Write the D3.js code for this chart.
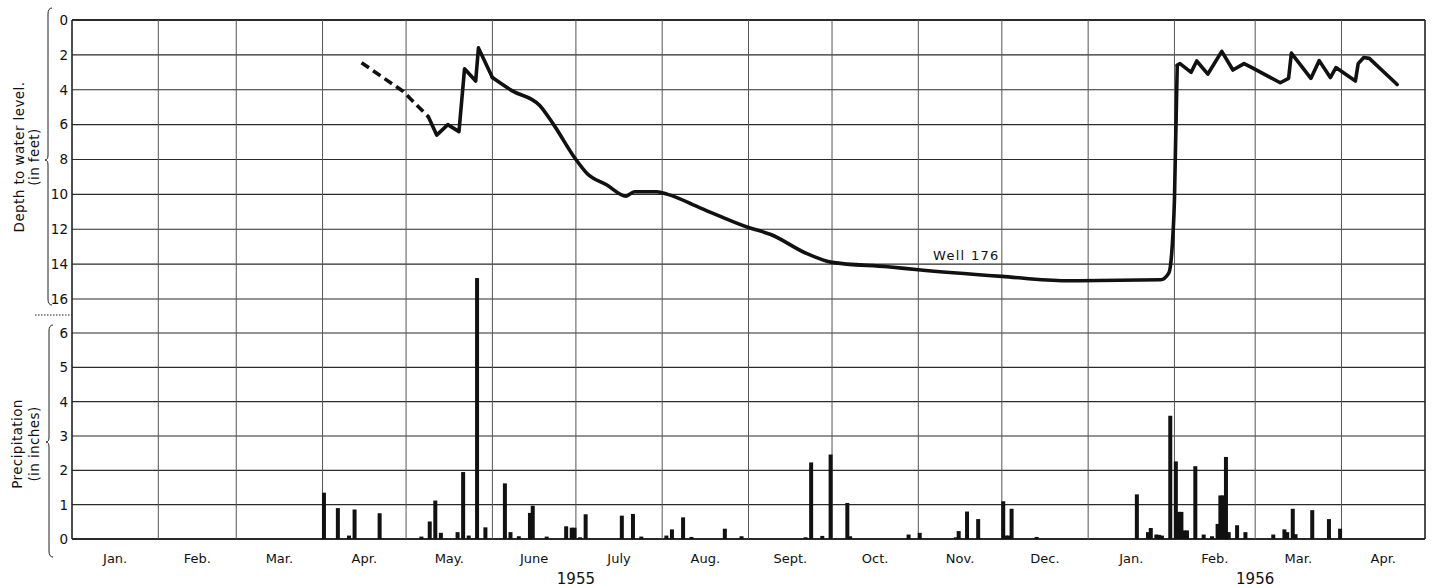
<!DOCTYPE html>
<html>
<head>
<meta charset="utf-8">
<script src="https://cdn.jsdelivr.net/npm/d3@7"></script>
<style>
  body { margin: 0; background: #fff; }
  text { font-family: "DejaVu Sans", sans-serif; fill: #111; }
</style>
</head>
<body>
<script>
// Well 176 hydrograph + daily precipitation, Jan 1955 - Apr 1956

var monthLabels = ["Jan.", "Feb.", "Mar.", "Apr.", "May.", "June", "July", "Aug.",
                   "Sept.", "Oct.", "Nov.", "Dec.", "Jan.", "Feb.", "Mar.", "Apr."];
var yearLabels = ["1955", "1956"];
var yearDates = ["1955-07-01", "1956-03-01"];
var depthTicks = [0, 2, 4, 6, 8, 10, 12, 14, 16];
var rainTicks = [0, 1, 2, 3, 4, 5, 6];

// estimated (dashed) part of the record
var dashDates = ["1955-04-15", "1955-04-30", "1955-05-09"];
var dashDepth = [2.45, 4.1, 5.55];

// measured depth to water (feet)
var wellDates = ["1955-05-09", "1955-05-12", "1955-05-16", "1955-05-20", "1955-05-22", "1955-05-26",
  "1955-05-27", "1955-06-01", "1955-06-08", "1955-06-18", "1955-06-23", "1955-07-01", "1955-07-05",
  "1955-07-12", "1955-07-19", "1955-07-22", "1955-07-30", "1955-08-03", "1955-08-15", "1955-09-01",
  "1955-09-09", "1955-09-22", "1955-10-01", "1955-10-21", "1955-11-01", "1955-12-01", "1955-12-24",
  "1956-01-27", "1956-01-30", "1956-01-31", "1956-02-01", "1956-02-02", "1956-02-03", "1956-02-07",
  "1956-02-09", "1956-02-13", "1956-02-18", "1956-02-22", "1956-02-26", "1956-02-29", "1956-03-10",
  "1956-03-13", "1956-03-14", "1956-03-21", "1956-03-24", "1956-03-28", "1956-03-30", "1956-04-06",
  "1956-04-07", "1956-04-09", "1956-04-11", "1956-04-21"];
var wellDepth = [5.55, 6.6, 6.0, 6.4, 2.8, 3.5,
  1.6, 3.3, 4.05, 4.9, 6.0, 8.0, 8.8,
  9.45, 10.1, 9.85, 9.85, 10.0, 10.8, 11.9,
  12.3, 13.4, 13.9, 14.15, 14.32, 14.7, 14.95,
  14.9, 14.5, 13.4, 10.3, 2.6, 2.5, 3.0,
  2.35, 3.1, 1.8, 2.87, 2.5, 2.75, 3.6,
  3.35, 1.9, 3.35, 2.33, 3.3, 2.73, 3.5,
  2.5, 2.15, 2.2, 3.7];

// daily precipitation (inches)
var rainDates = ["1955-04-01", "1955-04-06", "1955-04-10", "1955-04-12", "1955-04-21", "1955-05-06",
  "1955-05-09", "1955-05-11", "1955-05-13", "1955-05-19", "1955-05-21", "1955-05-23", "1955-05-26",
  "1955-05-29", "1955-06-05", "1955-06-07", "1955-06-10", "1955-06-14", "1955-06-15", "1955-06-20",
  "1955-06-27", "1955-06-29", "1955-06-30", "1955-07-02", "1955-07-04", "1955-07-17", "1955-07-21",
  "1955-07-24", "1955-08-02", "1955-08-04", "1955-08-08", "1955-08-11", "1955-08-23", "1955-08-29",
  "1955-09-21", "1955-09-23", "1955-09-27", "1955-09-30", "1955-10-06", "1955-10-07", "1955-10-28",
  "1955-11-01", "1955-11-14", "1955-11-15", "1955-11-18", "1955-11-22", "1955-12-01", "1955-12-02",
  "1955-12-03", "1955-12-04", "1955-12-13", "1956-01-18", "1956-01-22", "1956-01-23", "1956-01-25",
  "1956-01-26", "1956-01-27", "1956-01-30", "1956-02-01", "1956-02-02", "1956-02-03", "1956-02-04",
  "1956-02-05", "1956-02-08", "1956-02-11", "1956-02-14", "1956-02-16", "1956-02-17", "1956-02-18",
  "1956-02-19", "1956-02-20", "1956-02-23", "1956-02-26", "1956-03-07", "1956-03-11", "1956-03-12",
  "1956-03-14", "1956-03-15", "1956-03-21", "1956-03-27", "1956-03-31"];
var rainInches = [1.35, 0.9, 0.1, 0.86, 0.75, 0.07,
  0.51, 1.12, 0.18, 0.2, 1.95, 0.1, 7.6,
  0.34, 1.62, 0.2, 0.08, 0.76, 0.97, 0.07,
  0.37, 0.33, 0.33, 0.05, 0.72, 0.68, 0.73,
  0.07, 0.1, 0.28, 0.63, 0.06, 0.3, 0.08,
  0.05, 2.23, 0.09, 2.46, 1.05, 0.08, 0.13,
  0.18, 0.05, 0.23, 0.8, 0.58, 1.1, 0.1,
  0.1, 0.88, 0.06, 1.3, 0.2, 0.32, 0.13,
  0.12, 0.1, 3.59, 2.26, 0.79, 0.79, 0.25,
  0.25, 2.12, 0.13, 0.08, 0.44, 1.27, 1.27,
  2.39, 0.2, 0.4, 0.2, 0.13, 0.28, 0.2,
  0.88, 0.14, 0.84, 0.58, 0.3];

var w_svg = 1433, h_svg = 588;
var left = 72, right = 1425;
var parse = d3.utcParse("%Y-%m-%d");

var svg = d3.select("body").append("svg")
  .attr("width", w_svg).attr("height", h_svg);

// scales
var xScale = d3.scaleUtc()
  .domain([parse("1955-01-01"), parse("1956-05-01")])
  .range([left, right]);
var yDepth = d3.scaleLinear().domain([0, 16]).range([20, 299]);
var yRain = d3.scaleLinear().domain([0, 6]).range([539, 333]);

var months = d3.utcMonth.range(parse("1955-01-01"), parse("1956-05-01"));

// horizontal grid
svg.append("g").selectAll("line").data(depthTicks).enter().append("line")
  .attr("x1", left).attr("x2", right)
  .attr("y1", function(d) { return yDepth(d); })
  .attr("y2", function(d) { return yDepth(d); })
  .attr("stroke", "#2a2a2a").attr("stroke-width", function(d) { return d == 0 ? 1.8 : 1.2; });
svg.append("g").selectAll("line").data(rainTicks).enter().append("line")
  .attr("x1", left).attr("x2", right)
  .attr("y1", function(d) { return yRain(d); })
  .attr("y2", function(d) { return yRain(d); })
  .attr("stroke", "#2a2a2a").attr("stroke-width", function(d) { return d == 0 ? 2 : 1.2; });

// vertical grid (month boundaries)
svg.append("g").selectAll("line").data(months.concat([parse("1956-05-01")])).enter().append("line")
  .attr("x1", function(d) { return xScale(d); })
  .attr("x2", function(d) { return xScale(d); })
  .attr("y1", 20).attr("y2", 539)
  .attr("stroke", function(d, i) { return (i == 0 || i == 16) ? "#222" : "#555"; })
  .attr("stroke-width", function(d, i) { return (i == 0 || i == 16) ? 1.6 : 1; });

// axis labels
svg.append("g").selectAll("text").data(depthTicks).enter().append("text")
  .attr("x", 68).attr("y", function(d) { return yDepth(d); })
  .attr("dy", "0.36em").attr("text-anchor", "end")
  .style("font-size", "13.5px").text(function(d) { return d; });
svg.append("g").selectAll("text").data(rainTicks).enter().append("text")
  .attr("x", 68).attr("y", function(d) { return yRain(d); })
  .attr("dy", "0.36em").attr("text-anchor", "end")
  .style("font-size", "13.5px").text(function(d) { return d; });

svg.append("g").selectAll("text").data(months).enter().append("text")
  .attr("x", function(d) { return (xScale(d) + xScale(d3.utcMonth.offset(d, 1))) / 2; })
  .attr("y", 563).attr("text-anchor", "middle")
  .style("font-size", "13px")
  .text(function(d, i) { return monthLabels[i]; });

svg.append("g").selectAll("text").data(yearLabels).enter().append("text")
  .attr("x", function(d, i) { return xScale(parse(yearDates[i])); })
  .attr("y", 584).attr("text-anchor", "middle")
  .style("font-size", "15px")
  .text(function(d) { return d; });

// rotated titles
function vtitle(x, y, txt) {
  svg.append("text")
    .attr("transform", "translate(" + x + "," + y + ") rotate(-90)")
    .attr("text-anchor", "middle")
    .style("font-size", "13.5px").style("letter-spacing", "0.4px")
    .text(txt);
}
vtitle(24, 157, "Depth to water level.");
vtitle(39, 157, "(in feet)");
vtitle(22, 444, "Precipitation");
vtitle(39, 444, "(in inches)");

// braces
function brace(x, y0, ym, y1) {
  var p = "M" + (x + 4) + "," + y0 + " Q" + x + "," + y0 + " " + x + "," + (y0 + 6) +
    " L" + x + "," + (ym - 5) + " Q" + x + "," + ym + " " + (x - 3) + "," + ym +
    " Q" + x + "," + ym + " " + x + "," + (ym + 5) +
    " L" + x + "," + (y1 - 6) + " Q" + x + "," + y1 + " " + (x + 4) + "," + y1;
  svg.append("path").attr("d", p).attr("fill", "none")
    .attr("stroke", "#222").attr("stroke-width", 1);
}
brace(48, 8, 160, 305);
brace(49, 325, 442, 557);

svg.append("line")
  .attr("x1", 35).attr("x2", left).attr("y1", 315).attr("y2", 315)
  .attr("stroke", "#222").attr("stroke-width", 1.2).attr("stroke-dasharray", "1.5,1.5");

// precipitation bars
var rain = rainDates.map(function(d, i) { return { date: parse(d), v: rainInches[i] }; });
svg.append("g").selectAll("rect").data(rain).enter().append("rect")
  .attr("x", function(d) { return xScale(d3.utcHour.offset(d.date, 12)) - 2; })
  .attr("width", 4)
  .attr("y", function(d) { return yRain(d.v); })
  .attr("height", function(d) { return yRain(0) - yRain(d.v); })
  .attr("fill", "#111");

// well hydrograph: sharp zigzags drawn straight, long recession drawn smooth
var line = d3.line()
  .x(function(d) { return xScale(d.date); })
  .y(function(d) { return yDepth(d.v); });
var smooth = d3.line()
  .curve(d3.curveMonotoneX)
  .x(function(d) { return xScale(d.date); })
  .y(function(d) { return yDepth(d.v); });

var dashed = dashDates.map(function(d, i) { return { date: parse(d), v: dashDepth[i] }; });
var well = wellDates.map(function(d, i) { return { date: parse(d), v: wellDepth[i] }; });

svg.append("path").datum(dashed).attr("d", line)
  .attr("fill", "none").attr("stroke", "#111").attr("stroke-width", 3.6)
  .attr("stroke-dasharray", "9,5");

var pieces = [[well.slice(0, 8), line], [well.slice(7, 32), smooth], [well.slice(31), line]];
pieces.forEach(function(p) {
  svg.append("path").datum(p[0]).attr("d", p[1])
    .attr("fill", "none").attr("stroke", "#111").attr("stroke-width", 3.6)
    .attr("stroke-linejoin", "round").attr("stroke-linecap", "round");
});

svg.append("text")
  .attr("x", 933).attr("y", 260)
  .style("font-size", "13px").style("letter-spacing", "1.3px")
  .text("Well  176");
</script>
</body>
</html>
